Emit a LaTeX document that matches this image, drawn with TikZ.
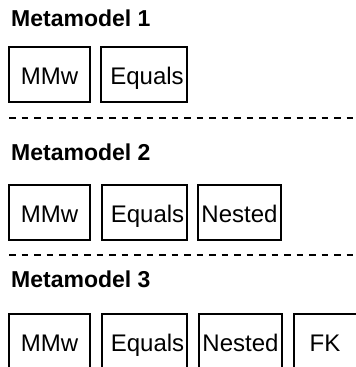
\documentclass[tikz,border=0pt]{standalone}
\usepackage{fontspec}
\setmainfont{Liberation Sans}
\begin{document}
\begin{tikzpicture}[x=1pt,y=-1pt,
  title/.style={anchor=base west,inner sep=0pt,font=\fontsize{23}{26}\selectfont\bfseries},
  mbox/.style={draw=black,line width=1.8pt,inner sep=0pt,minimum height=55pt,
    text height=24pt,text depth=5pt,font=\fontsize{24}{28}\selectfont},
  sep/.style={line width=2pt,dash pattern=on 6.5pt off 6pt}]
\useasboundingbox (0,0) rectangle (356,367);
\clip (0,0) rectangle (356,367);
% row 1
\node[title] (t1) at (11,26) {Metamodel 1};
\node[mbox,minimum width=81pt] (a1) at (49.5,74.5) {MMw};
\node[mbox,minimum width=86pt] (b1) at (144,74.5) {\hspace*{6pt}Equals};
\coordinate (l1a) at (9,118);
\coordinate (l1b) at (360,118);
\draw[sep] (l1a) -- (l1b);
% row 2
\node[title] (t2) at (11,160) {Metamodel 2};
\node[mbox,minimum width=81pt] (a2) at (49.5,212.5) {MMw};
\node[mbox,minimum width=85pt] (b2) at (144.5,212.5) {\hspace*{6pt}Equals};
\node[mbox,minimum width=83pt] (c2) at (239.5,212.5) {Nested};
\coordinate (l2a) at (9,255);
\coordinate (l2b) at (360,255);
\draw[sep] (l2a) -- (l2b);
% row 3
\node[title] (t3) at (11,287) {Metamodel 3};
\node[mbox,minimum width=81pt] (a3) at (49.5,341.5) {MMw};
\node[mbox,minimum width=85pt] (b3) at (144.5,341.5) {\hspace*{6pt}Equals};
\node[mbox,minimum width=83pt] (c3) at (240.5,341.5) {Nested};
\node[mbox,minimum width=70pt] (d3) at (329,341.5) {FK\hspace*{8pt}};
\end{tikzpicture}
\end{document}
